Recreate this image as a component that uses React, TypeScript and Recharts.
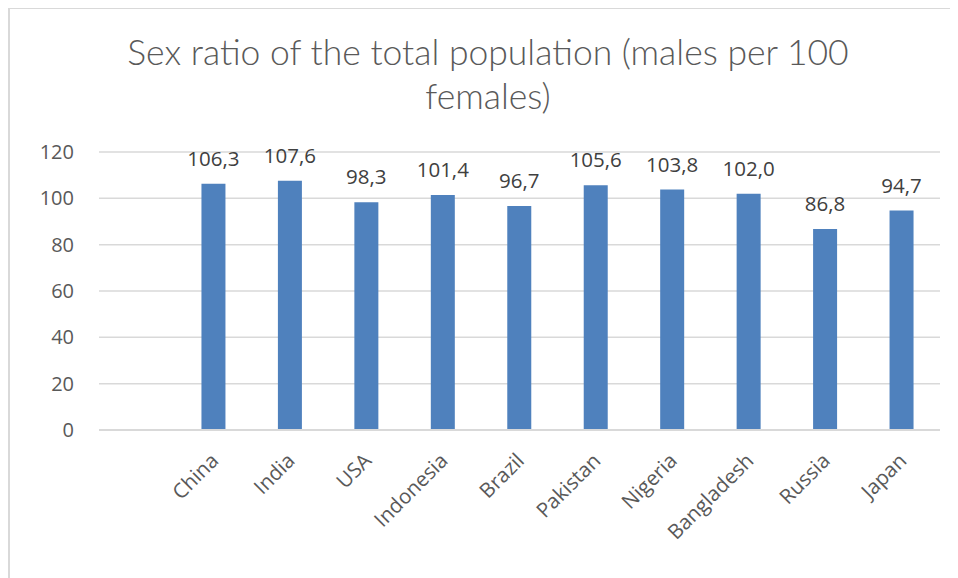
import { BarChart, Bar, XAxis, YAxis, CartesianGrid, LabelList } from "recharts"

const countries = ["", "China", "India", "USA", "Indonesia", "Brazil", "Pakistan", "Nigeria", "Bangladesh", "Russia", "Japan"]
const sexRatio: Array<number | null> = [null, 106.3, 107.6, 98.3, 101.4, 96.7, 105.6, 103.8, 102.0, 86.8, 94.7]
const yTicks = [0, 20, 40, 60, 80, 100, 120]

const data = countries.map((name, i) => ({ name, ratio: sexRatio[i] }))

const FONT = "'Open Sans', sans-serif"
const TEXT = "#595959"

function formatValue(v: unknown) {
  if (v == null || v === "") return ""
  return Number(v).toFixed(1).replace(".", ",")
}

function YTick({ y, payload }: any) {
  return (
    <text x={66} y={y} dy={7} textAnchor="end" fill={TEXT} fontSize={20} fontFamily={FONT}>
      {payload.value}
    </text>
  )
}

function XTick({ x, y, payload }: any) {
  if (!payload.value) return null
  return (
    <g transform={`translate(${x + 6},${y + 24})`}>
      <text textAnchor="end" transform="rotate(-45)" fill={TEXT} fontSize={20.5} fontFamily={FONT}>
        {payload.value}
      </text>
    </g>
  )
}

export default function App() {
  return (
    <div style={{ position: "relative", width: 950, height: 570, overflow: "hidden" }}>
      <div
        style={{
          position: "absolute",
          left: 0,
          top: -1,
          width: 960,
          height: 590,
          borderLeft: "2px solid #d9d9d9",
          borderTop: "2px solid #d9d9d9",
          boxSizing: "border-box",
        }}
      />
      <div
        style={{
          position: "absolute",
          left: 0,
          top: 22,
          width: 960,
          textAlign: "center",
          fontFamily: "Lato, sans-serif",
          fontWeight: 300,
          fontSize: 35.5,
          lineHeight: "44px",
          color: TEXT,
        }}
      >
        Sex ratio of the total population (males per 100
        <br />
        females)
      </div>
      <div style={{ position: "absolute", left: 0, top: 0 }}>
        <BarChart
          width={950}
          height={570}
          data={data}
          margin={{ top: 144, right: 18, bottom: 0, left: 0 }}
          barSize={24}
        >
          <CartesianGrid vertical={false} stroke="#d9d9d9" strokeWidth={1.5} />
          <XAxis
            dataKey="name"
            height={148}
            axisLine={{ stroke: "#d9d9d9", strokeWidth: 2 }}
            tickLine={false}
            interval={0}
            tick={<XTick />}
          />
          <YAxis
            width={91}
            domain={[0, 120]}
            ticks={yTicks}
            axisLine={false}
            tickLine={false}
            tick={<YTick />}
          />
          <Bar dataKey="ratio" fill="#4f81bd" isAnimationActive={false}>
            <LabelList
              dataKey="ratio"
              position="top"
              offset={18}
              formatter={formatValue}
              fill="#404040"
              fontSize={20.5}
              fontFamily={FONT}
            />
          </Bar>
        </BarChart>
      </div>
    </div>
  )
}
